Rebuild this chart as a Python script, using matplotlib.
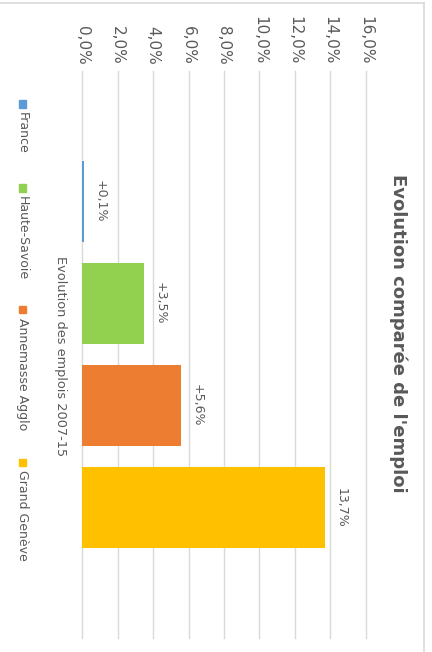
import matplotlib
matplotlib.use("Agg")
import matplotlib.pyplot as plt
from matplotlib.patches import Rectangle

plt.rcParams['font.family'] = ['DejaVu Sans']

# data
series = ['France', 'Haute-Savoie', 'Annemasse Agglo', 'Grand Genève']
values = [0.1, 3.5, 5.6, 13.7]
value_labels = ['+0,1%', '+3,5%', '+5,6%', '13,7%']
colors = ['#5B9BD5', '#92D050', '#ED7D31', '#FFC000']
ticks = [0, 2, 4, 6, 8, 10, 12, 14, 16]
tick_labels = ['0,0%', '2,0%', '4,0%', '6,0%', '8,0%', '10,0%', '12,0%', '14,0%', '16,0%']
category = 'Evolution des emplois 2007-15'
title = "Evolution comparée de l'emploi"

txt = '#595959'
W, H = 432, 652

fig = plt.figure(figsize=(W / 100, H / 100), dpi=100)

# chart frame (only top and right edges visible in the picture)
fig.add_artist(plt.Line2D([0, 424 / W], [1 - 3 / H, 1 - 3 / H], color='#d9d9d9', lw=1.2))
fig.add_artist(plt.Line2D([424 / W, 424 / W], [0, 1 - 3 / H], color='#d9d9d9', lw=1.2))

ax = fig.add_axes([82.3 / W, 14 / H, 283.4 / W, 567 / H])
pos = list(range(len(series)))
ax.barh(pos, values, height=0.8, color=colors, zorder=3)
ax.set_xlim(0, 16)
ax.set_ylim(4.28, -1.28)

for s in ax.spines.values():
    s.set_visible(False)
ax.set_yticks([])
ax.set_xticks(ticks)
ax.set_xticklabels(tick_labels, rotation=-90, color=txt, fontsize=11)
ax.xaxis.tick_top()
ax.tick_params(axis='x', length=0, pad=4.5)
ax.grid(axis='x', color='#d9d9d9', lw=1, zorder=0)
for gl in ax.get_xgridlines():
    gl.set_clip_on(False)

for p, v, lab in zip(pos, values, value_labels):
    ax.annotate(lab, (v, p), xytext=(11.5, 0), textcoords='offset points',
                rotation=-90, ha='center', va='center', color=txt, fontsize=9)

# title on the right, category title on the left
fig.text(398 / W, 1 - 333 / H, title, rotation=-90, ha='center', va='center',
         color=txt, fontsize=13, fontweight='bold')
fig.text(60 / W, 1 - 356 / H, category, rotation=-90, ha='center', va='center',
         color=txt, fontsize=9.3)

# legend, rotated like the rest
leg_y = [104, 188, 310, 462]
for y, name, c in zip(leg_y, series, colors):
    fig.add_artist(Rectangle(((22 - 3.5) / W, 1 - (y + 3.5) / H), 7 / W, 7 / H,
                             transform=fig.transFigure, color=c))
    fig.text(22 / W, 1 - (y + 8) / H, name, rotation=-90, ha='center', va='top',
             color=txt, fontsize=9)

fig.savefig('out.png', dpi=100)
